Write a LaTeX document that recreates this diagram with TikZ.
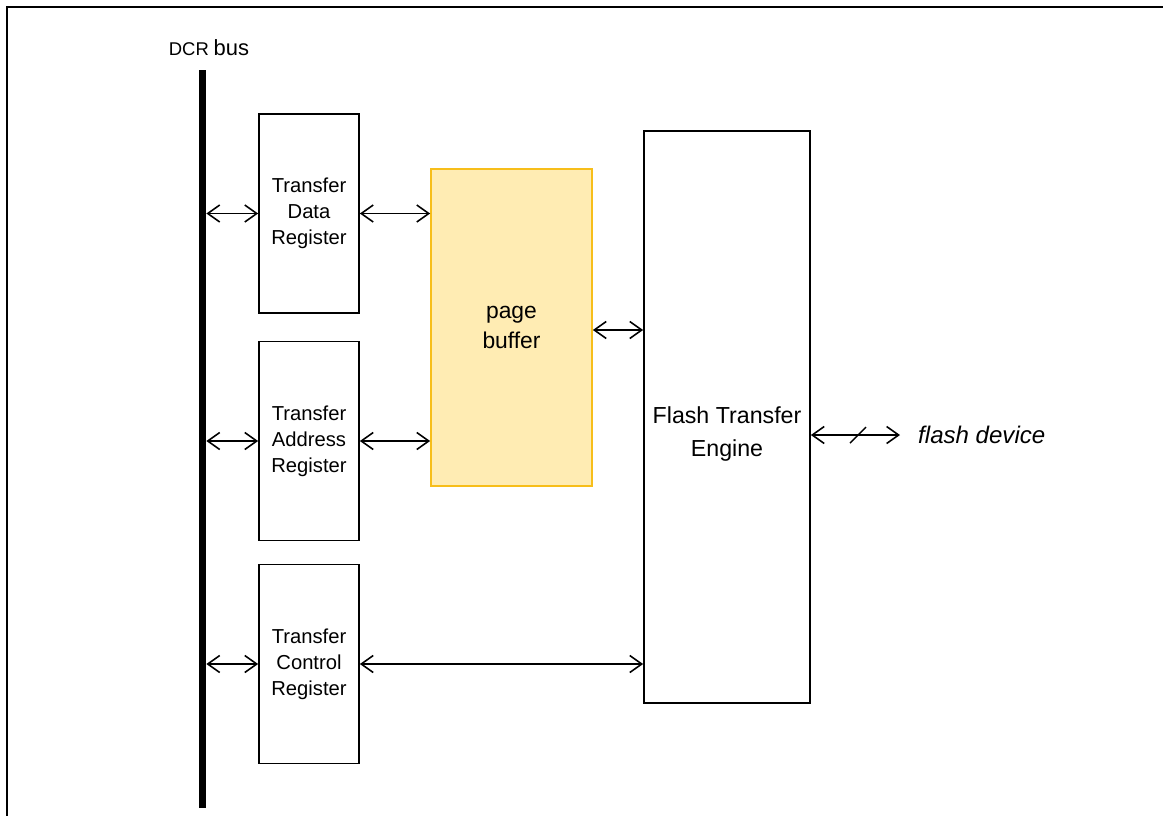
\documentclass[tikz,border=0pt]{standalone}
\usepackage{fontspec}
\setmainfont{Liberation Sans}
\usetikzlibrary{arrows.meta, positioning, calc}
\definecolor{bufyellow}{HTML}{FFECB3}
\definecolor{bufedge}{HTML}{F7BE1A}
\definecolor{inkblack}{HTML}{000000}

\begin{document}
\begin{tikzpicture}[x=0.02cm, y=-0.02cm,
  >={Straight Barb[length=2.4mm, width=3.4mm]},
  regbox/.style={draw=inkblack, line width=1pt, minimum width=2cm, minimum height=3.98cm,
    align=center, inner sep=0pt, font=\fontsize{11.5}{14.8}\selectfont},
  link/.style={<->, line width=0.9pt, inkblack}]

% Frame (top and left edges only)
\useasboundingbox (0,0) rectangle (1163,816);
\draw[line width=1.1pt] (1163,7) -- (7,7) -- (7,816);

% ================================================================
% DCR bus
% ================================================================
\node[fill=inkblack, minimum width=0.14cm, minimum height=14.76cm, inner sep=0pt] (bus) at (202.5,439) {};
\node (buslabel) at (209,48) {{\fontsize{10.5}{12}\selectfont DCR} {\fontsize{12.5}{14}\selectfont bus}};

% Registers
\node[regbox] (datareg) at (309,213.5) {Transfer\\Data\\Register};
\node[regbox] (addrreg) at (309,441) {Transfer\\Address\\Register};
\node[regbox] (ctrlreg) at (309,664) {Transfer\\Control\\Register};

% Page buffer
\node[draw=bufedge, fill=bufyellow, line width=1pt, minimum width=3.22cm, minimum height=6.34cm,
  align=center, inner sep=0pt, font=\fontsize{13}{17}\selectfont,
  text depth=-0.06cm] (pagebuf) at (511.5,327.5) {page\\buffer};

% Flash Transfer Engine
\node[draw=inkblack, line width=1pt, minimum width=3.32cm, minimum height=11.44cm, inner sep=0pt,
  label={[font=\fontsize{13.2}{18.8}\selectfont, align=center, yshift=-0.34cm]center:{Flash Transfer\\Engine}}]
  (fte) at (727,417) {};

% ================================================================
% Connections
% ================================================================
\foreach \reg in {datareg, addrreg, ctrlreg} {
  \draw[link] (bus.east |- \reg.west) -- (\reg.west);
}
\draw[link] (datareg.east) -- (datareg.east -| pagebuf.west);
\draw[link] (addrreg.east) -- (addrreg.east -| pagebuf.west);
\draw[link] ($(pagebuf.east)+(0,2.5)$) -- ($(pagebuf.east -| fte.west)+(0,2.5)$);
\draw[link] (ctrlreg.east) -- (ctrlreg.east -| fte.west);

% Flash device link with bus slash
\coordinate (fdev) at (900,435);
\draw[link] (fdev -| fte.east) -- (fdev);
\draw[line width=0.8pt] (850,443) -- (866,427);
\node[anchor=west, font=\fontsize{13.7}{16}\selectfont\itshape] (fdevlabel) at (912,435) {flash device};

\end{tikzpicture}
\end{document}
